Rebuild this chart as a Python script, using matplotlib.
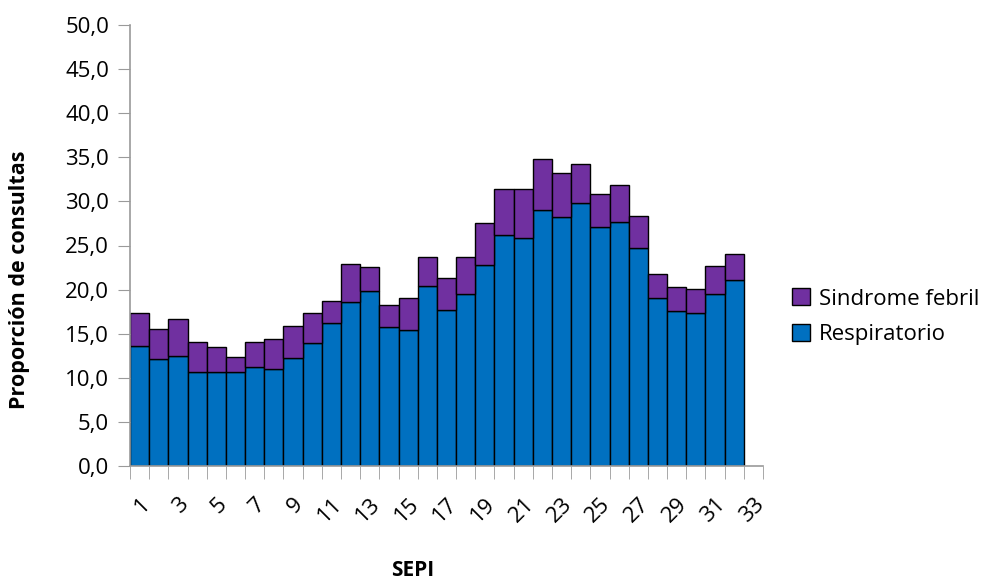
import numpy as np
import matplotlib.pyplot as plt

plt.rcParams['font.family'] = ['Open Sans', 'DejaVu Sans']

# Semana epidemiológica (SEPI) y proporción de consultas
sepi = list(range(1, 33))
respiratorio = [13.6, 12.1, 12.5, 10.7, 10.7, 10.7, 11.2, 11.0, 12.3, 13.9,
                16.2, 18.6, 19.8, 15.8, 15.4, 20.4, 17.7, 19.5, 22.8, 26.2,
                25.8, 29.0, 28.2, 29.8, 27.1, 27.7, 24.7, 19.1, 17.6, 17.4,
                19.5, 21.1]
total = [17.4, 15.5, 16.7, 14.1, 13.5, 12.4, 14.1, 14.4, 15.9, 17.3,
         18.7, 22.9, 22.6, 18.3, 19.0, 23.7, 21.3, 23.7, 27.5, 31.4,
         31.4, 34.8, 33.2, 34.2, 30.8, 31.9, 28.3, 21.8, 20.3, 20.1,
         22.7, 24.0]
febril = [t - r for t, r in zip(total, respiratorio)]
tick_labels = [str(i) for i in range(1, 34, 2)]

fig = plt.figure(figsize=(9.82, 5.79), dpi=100)
ax = fig.add_axes([130 / 982, 1 - 466 / 579, 633 / 982, 441 / 579])

b1 = ax.bar(sepi, respiratorio, width=1.0, color='#0070C0',
            edgecolor='black', linewidth=1, label='Respiratorio')
b2 = ax.bar(sepi, febril, bottom=respiratorio, width=1.0, color='#7030A0',
            edgecolor='black', linewidth=1, label='Sindrome febril')

ax.set_xlim(0.5, 33.5)
ax.set_ylim(0, 50)
ax.set_yticks(np.arange(0, 51, 5))
ax.set_yticklabels([f'{v:.1f}'.replace('.', ',') for v in np.arange(0, 51, 5)],
                   fontsize=16)

ax.set_xticks(range(1, 34, 2))
ax.set_xticklabels(tick_labels, rotation=45, ha='right', va='top',
                   rotation_mode='anchor', fontsize=16)
ax.set_xticks(np.arange(0.5, 34, 1), minor=True)
ax.tick_params(axis='x', which='major', length=0, pad=20)
ax.tick_params(axis='x', which='minor', length=9, color='#9a9a9a')
ax.tick_params(axis='y', length=9, color='#9a9a9a', pad=6)

for s in ['top', 'right']:
    ax.spines[s].set_visible(False)
for s in ['left', 'bottom']:
    ax.spines[s].set_color('#9a9a9a')
    ax.spines[s].set_linewidth(1.2)

fig.text(20 / 982, 1 - 280 / 579, 'Proporción de consultas', rotation=90,
         ha='center', va='center', fontsize=15.5, fontweight='bold')
fig.text(413 / 982, 1 - 570 / 579, 'SEPI', ha='center', va='center',
         fontsize=15, fontweight='bold')

ax.legend(handles=[b2, b1], loc='center left', bbox_to_anchor=(1.015, 0.338),
          frameon=False, fontsize=16, handlelength=0.8, handleheight=0.8,
          handletextpad=0.4, labelspacing=0.65)

fig.savefig('out.png', dpi=100)
